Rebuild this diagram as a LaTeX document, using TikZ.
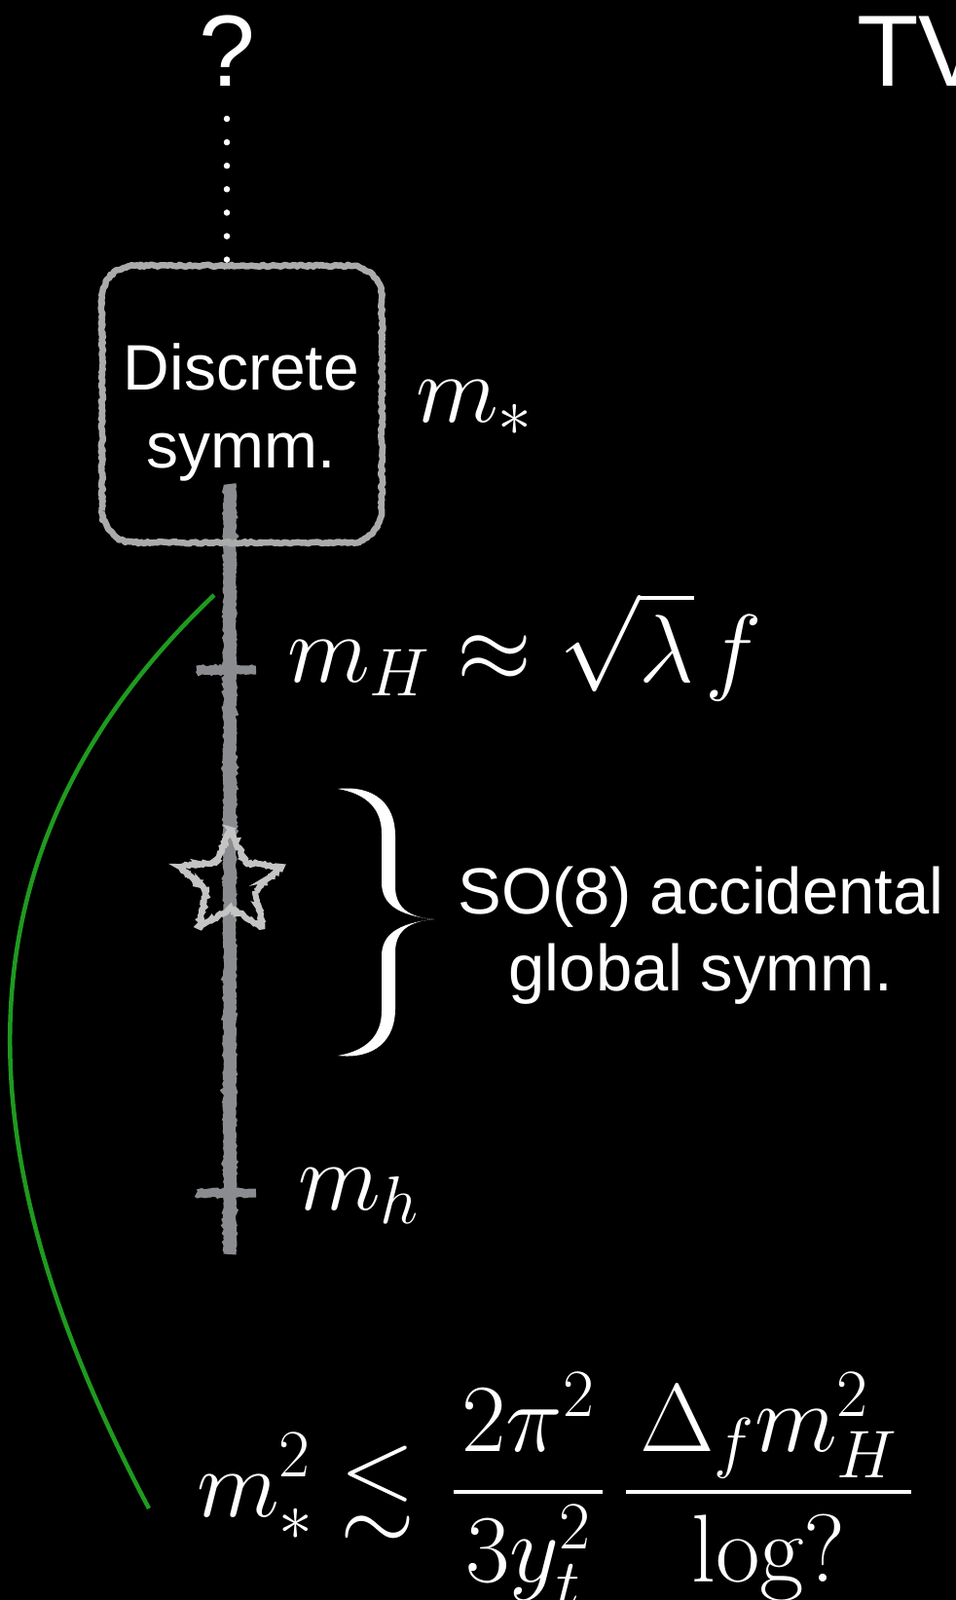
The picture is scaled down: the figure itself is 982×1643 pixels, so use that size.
\RequirePackage{fix-cm}
\documentclass[tikz,border=0pt]{standalone}
\usepackage{amsmath,amssymb}
\usepackage{fontspec}
\setsansfont{Liberation Sans}
\usetikzlibrary{decorations.pathmorphing,shapes.geometric,calc}
\definecolor{chalkgray}{HTML}{8A8C90}
\definecolor{boxgray}{HTML}{ABABAB}
\definecolor{stargray}{HTML}{C4C4C4}
\definecolor{arcgreen}{HTML}{1F9A1F}

\begin{document}
\begin{tikzpicture}[x=1pt,y=-1pt,
  lab/.style={text=white,inner sep=0pt,font=\sffamily\fontsize{66}{80}\selectfont},
  big/.style={text=white,inner sep=0pt,font=\sffamily\fontsize{104}{110}\selectfont},
  mth/.style={text=white,inner sep=0pt,font=\fontsize{99}{110}\selectfont},
  chalk/.style={draw=chalkgray,decorate,decoration={random steps,segment length=2pt,amplitude=0.9pt}},
  boxchalk/.style={draw=boxgray,line width=6.5pt,line join=round,sharp corners,decorate,decoration={random steps,segment length=2.5pt,amplitude=1.2pt}},
  dotline/.style={white,line width=6.5pt,line cap=round,dash pattern=on 0pt off 24.1pt}]
  \fill[black] (0,0) rectangle (982,1643);
  \useasboundingbox (0,0) rectangle (982,1643);

  % scale axis
  \coordinate (axTop) at (236,497);
  \coordinate (axBot) at (236,1288);
  \coordinate (tH) at (236,688);
  \coordinate (th) at (236,1225);
  \coordinate (arcTop) at (220,611);
  \coordinate (arcEnd) at (153,1549);

  \draw[arcgreen,line width=4.5pt] (arcTop) .. controls (-76,892) and (-21,1220) .. (arcEnd);
  \draw[chalk,line width=13pt] (axTop) -- (axBot);
  \foreach \t in {tH,th}
    \draw[chalk,line width=9pt] ([xshift=-34pt]\t) -- ([xshift=27pt]\t);
  \node[star,star points=5,star point ratio=2.1,minimum size=110pt,inner sep=0pt,
    draw=stargray,line width=6pt,decorate,decoration={random steps,segment length=2pt,amplitude=1.4pt}] (sym8) at (237,907) {};

  % discrete symmetry box
  \node[minimum width=287pt,minimum height=284pt,inner sep=0pt] (symbox) at (248.5,415) {};
  \path[rounded corners=33pt,postaction={boxchalk}] (symbox.south west) rectangle (symbox.north east);
  \node[lab,anchor=base] (disc) at (248,400) {Discrete};
  \node[lab,anchor=base] (disc2) at (248,480) {symm.};

  \node[big,anchor=base] (qm) at (233,89) {?};
  \node[big,anchor=base west] (tv) at (880,89) {TV};
  \draw[dotline] ([yshift=-33pt]qm.base) -- (qm.base |- symbox.north);

  % brace
  \fill[white] (347,810) .. controls (385,806) and (406,826) .. (406,858) -- (406,910)
    .. controls (406,932) and (420,942) .. (446,944)
    .. controls (420,946) and (406,956) .. (406,978) -- (406,1036)
    .. controls (406,1068) and (385,1088) .. (347,1084)
    .. controls (376,1079) and (392,1064) .. (392,1038) -- (392,982)
    .. controls (392,960) and (408,948) .. (446,944)
    .. controls (408,940) and (392,928) .. (392,906) -- (392,856)
    .. controls (392,830) and (376,815) .. (347,810) -- cycle;
  \node[lab,anchor=base,font=\sffamily\fontsize{67}{80}\selectfont] (acc) at (720,938) {SO(8) accidental};
  \node[lab,anchor=base,font=\sffamily\fontsize{67}{80}\selectfont] (acc2) at (720,1017) {global symm.};

  % mass scales
  \node[mth,anchor=base west] (mstar) at (427,433) {$m_*$};
  \node[mth,anchor=base west] (mH) at (295,700) {$m_H\approx\sqrt{\lambda}\mkern2mu f$};
  \node[mth,anchor=base west] (mh) at (306,1242) {$m_h$};
  \node[mth,anchor=base west] (bound) at (202,1557)
    {$\displaystyle m_*^2\lesssim\mkern2mu\frac{\mkern1.5mu 2\pi^2\mkern1.5mu}{\mkern1.5mu 3y_t^2\mkern1.5mu}\mkern4mu\frac{\mkern2.5mu\Delta_f m_H^2\mkern2.5mu}{\log ?}$};
\end{tikzpicture}
\end{document}
